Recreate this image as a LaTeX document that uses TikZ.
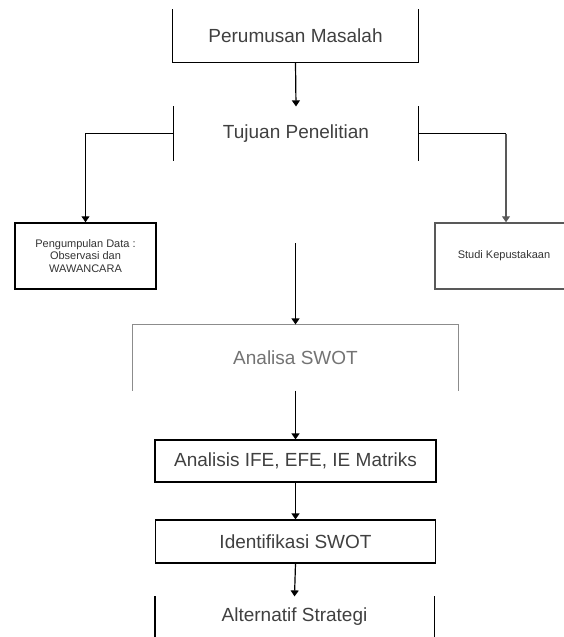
\documentclass[tikz,border=0pt]{standalone}
\usepackage{fontspec}
\setmainfont{Liberation Sans}
\usetikzlibrary{arrows.meta}
\begin{document}
\begin{tikzpicture}[x=1pt,y=-1pt,line width=1.2pt,>={Triangle[length=6pt,width=8pt]},
  lbl/.style={inner sep=0pt,text=black!75,font=\fontsize{19}{22}\selectfont},
  small/.style={inner sep=0pt,align=center,text=black!80,font=\fontsize{11}{12.5}\selectfont}]
\useasboundingbox (0,0) rectangle (563,637);
% kotak utama
\node[lbl,minimum width=245pt,minimum height=52pt] (perumusan) at (295.5,36) {Perumusan Masalah};
\draw (perumusan.north west) -- (perumusan.south west) -- (perumusan.south east) -- (perumusan.north east);
\node[lbl,minimum width=244pt,minimum height=53pt] (tujuan) at (296,133.5) {Tujuan Penelitian};
\draw (tujuan.north west) -- (tujuan.south west);
\draw (tujuan.north east) -- (tujuan.south east);
\node[small,draw,line width=1.5pt,minimum width=141pt,minimum height=66pt] (data) at (85.5,256) {Pengumpulan Data :\\Observasi dan\\WAWANCARA};
\node[small,draw=black!65,line width=1.5pt,minimum width=138pt,minimum height=66pt] (studi) at (504,256) {Studi Kepustakaan};
\node[lbl,text=black!55,minimum width=325pt,minimum height=65pt] (swot) at (295.5,357.5) {Analisa SWOT};
\draw[black!45] (swot.south west) -- (swot.north west) -- (swot.north east) -- (swot.south east);
\node[lbl,draw,minimum width=281pt,minimum height=42pt] (analisis) at (295.5,461) {Analisis IFE, EFE, IE Matriks};
\node[lbl,draw,minimum width=280pt,minimum height=43pt] (identifikasi) at (295.5,541.5) {Identifikasi SWOT};
\node[lbl,minimum width=278pt,minimum height=40pt] (alternatif) at (294.5,617) {Alternatif Strategi};
\draw (alternatif.north west) -- (alternatif.south west);
\draw (alternatif.north east) -- (alternatif.south east);
% panah
\coordinate (kiri) at (85.5,133.5);
\coordinate (kanan) at (506,133.5);
\coordinate (tengah) at (295.5,243);
\draw[->] (perumusan.south) -- (tujuan.north);
\draw[->] (tujuan.west) -- (kiri) -- (data);
\draw (tujuan.east) -- (kanan);
\draw[->,black!65] (kanan) -- (kanan |- studi.north);
\draw[->] (tengah) -- (swot.north);
\draw[->] (swot.south) -- (analisis.north);
\draw[->] (analisis.south) -- (identifikasi.north);
\draw[->] (identifikasi.south) -- (alternatif.north);
\end{tikzpicture}
\end{document}
